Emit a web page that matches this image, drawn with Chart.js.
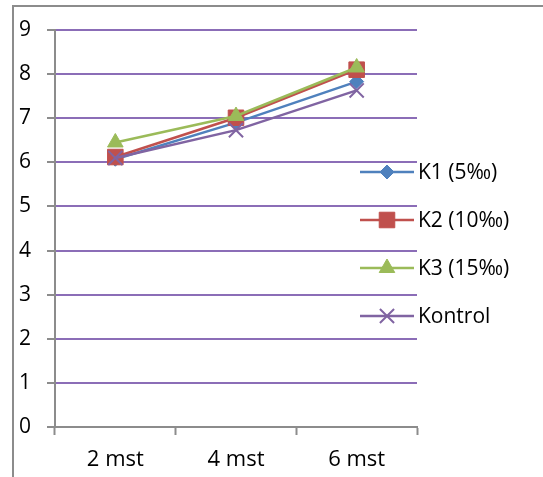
<!DOCTYPE html>
<html>
<head>
<meta charset="UTF-8">
<title>Chart</title>
<script src="https://cdn.jsdelivr.net/npm/chart.js"></script>
<style>
  html, body { margin: 0; padding: 0; background: #fff; overflow: hidden; }
  .wrap { position: relative; width: 543px; height: 477px; }
  /* grey frame of the chart object, only left and top edges are visible */
  .frame {
    position: absolute; left: 12px; top: 5px; width: 700px; height: 700px;
    border-left: 2px solid #8c8c8c; border-top: 2px solid #8c8c8c;
  }
  canvas { position: absolute; left: 0; top: 0; }
</style>
</head>
<body>
<div class="wrap">
  <div class="frame"></div>
  <canvas id="chart" width="543" height="477"></canvas>
</div>
<script>
  const labels = ['2 mst', '4 mst', '6 mst'];
  const k1 = [6.07, 6.9, 7.83];
  const k2 = [6.12, 7.01, 8.1];
  const k3 = [6.45, 7.05, 8.15];
  const kontrol = [6.1, 6.73, 7.63];
  const yTicks = [0, 9, 1]; // min, max, step

  const seriesNames = ['K1 (5‰)', 'K2 (10‰)', 'K3 (15‰)', 'Kontrol'];
  const colors = ['#4f81bd', '#c0504d', '#9bbb59', '#8064a2'];
  const styles = ['rectRot', 'rect', 'triangle', 'crossRot'];
  const radii = [7, 11, 9, 10];
  const values = [k1, k2, k3, kontrol];

  const gridColor = '#8b6db7';
  const axisColor = '#8c8c8c';

  const datasets = values.map((v, i) => ({
    label: seriesNames[i],
    data: v,
    borderColor: colors[i],
    backgroundColor: colors[i],
    borderWidth: 2.5,
    pointStyle: styles[i],
    pointRadius: radii[i],
    pointBorderColor: colors[i],
    pointBackgroundColor: colors[i],
    pointBorderWidth: styles[i] === 'crossRot' ? 2 : 1,
    tension: 0,
    order: 4 - i
  }));

  // legend on the right, line with marker in the middle
  const sideLegend = {
    id: 'sideLegend',
    afterDraw(chart) {
      const ctx = chart.ctx;
      const rows = [172, 220, 268, 316];
      ctx.save();
      datasets.forEach((ds, i) => {
        const y = rows[i];
        ctx.strokeStyle = ds.borderColor;
        ctx.lineWidth = 2.5;
        ctx.beginPath();
        ctx.moveTo(360, y);
        ctx.lineTo(414, y);
        ctx.stroke();
        ctx.fillStyle = ds.backgroundColor;
        ctx.lineWidth = ds.pointBorderWidth;
        Chart.helpers.drawPoint(ctx, {pointStyle: ds.pointStyle, radius: ds.pointRadius, rotation: 0, borderWidth: ds.pointBorderWidth}, 387, y);
        ctx.fillStyle = '#000';
        ctx.font = '21px "Open Sans"';
        ctx.textBaseline = 'middle';
        ctx.textAlign = 'left';
        ctx.fillText(ds.label, 418, y + 1);
      });
      ctx.restore();
    }
  };

  new Chart(document.getElementById('chart'), {
    type: 'line',
    data: { labels: labels, datasets: datasets },
    options: {
      responsive: false,
      animation: false,
      layout: { padding: { left: 0, top: 30, right: 126, bottom: 0 } },
      plugins: { legend: { display: false }, tooltip: { enabled: false } },
      scales: {
        x: {
          offset: true,
          grid: { offset: true, drawOnChartArea: false, drawTicks: true, tickLength: 8, tickColor: axisColor, tickWidth: 2 },
          border: { display: true, color: axisColor, width: 2 },
          ticks: { color: '#000', font: { family: 'Open Sans', size: 22 }, padding: 12 },
          afterFit(scale) { scale.height = 50; }
        },
        y: {
          min: yTicks[0],
          max: yTicks[1],
          ticks: { stepSize: yTicks[2], color: '#000', font: { family: 'Open Sans', size: 21 }, padding: 16 },
          grid: { color: gridColor, lineWidth: 2, tickLength: 8, tickColor: axisColor, tickWidth: 2 },
          border: { display: true, color: axisColor, width: 2 },
          afterFit(scale) { scale.width = 55; }
        }
      }
    },
    plugins: [sideLegend]
  });
</script>
</body>
</html>
